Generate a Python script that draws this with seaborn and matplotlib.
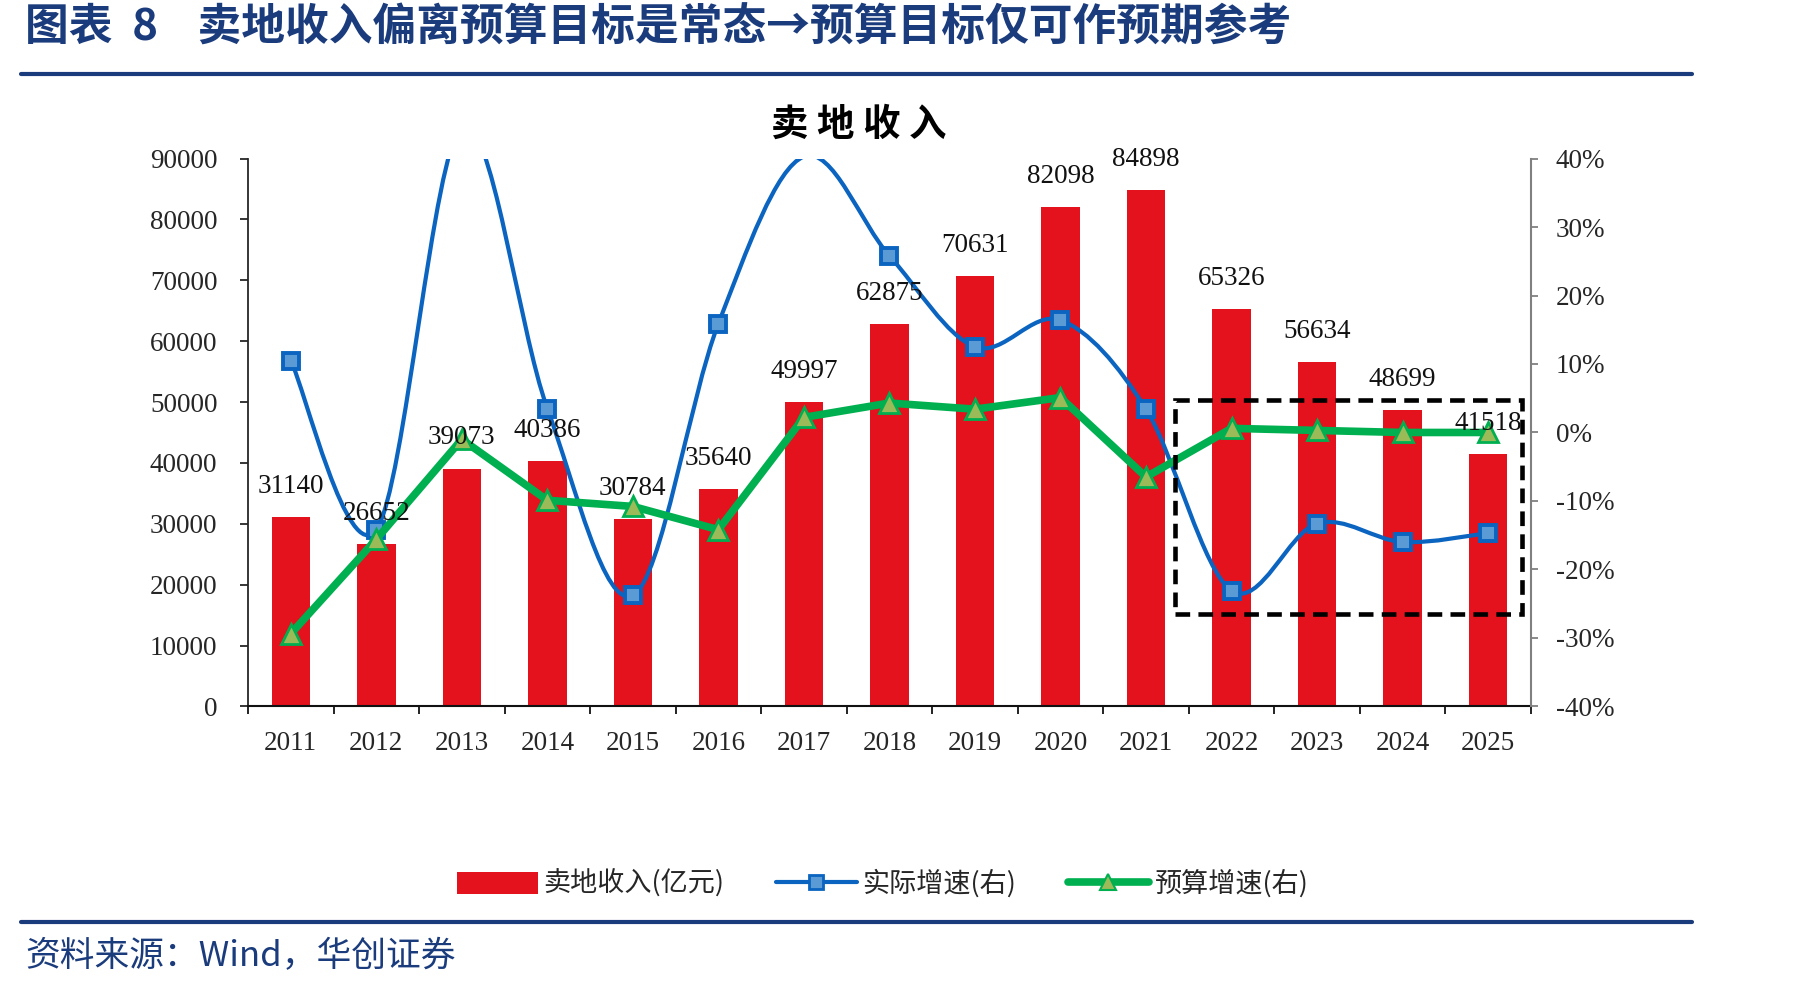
import numpy as np
import matplotlib
matplotlib.use("Agg")
import matplotlib.pyplot as plt
import seaborn as sns
from matplotlib.path import Path
from matplotlib.patches import PathPatch, Rectangle, Patch
from matplotlib.lines import Line2D
from matplotlib.ticker import FuncFormatter

# ---------------- data ----------------
years = ["2011", "2012", "2013", "2014", "2015", "2016", "2017", "2018",
         "2019", "2020", "2021", "2022", "2023", "2024", "2025"]
land_income = [31140, 26652, 39073, 40386, 30784, 35640, 49997, 62875,
               70631, 82098, 84898, 65326, 56634, 48699, 41518]
actual_growth = [10.5, -14.2, 44.6, 3.5, -23.8, 15.9, 40.3, 25.8,
                 12.5, 16.4, 3.4, -23.1, -13.3, -16.0, -14.7]
budget_growth = [-29.4, -15.6, -1.0, -9.9, -10.8, -14.2, 2.2, 4.3,
                 3.4, 5.1, -6.5, 0.6, 0.3, 0.0, 0.0]
left_ticks = [0, 10000, 20000, 30000, 40000, 50000, 60000, 70000, 80000, 90000]
right_ticks = [-40, -30, -20, -10, 0, 10, 20, 30, 40]

title_text = "图表  8    卖地收入偏离预算目标是常态→预算目标仅可作预期参考"
chart_title = "卖 地 收 入"
source_text = "资料来源：Wind，华创证券"
legend_labels = ["卖地收入(亿元)", "实际增速(右)", "预算增速(右)"]

# ---------------- style ----------------
RED = "#E3121C"
BLUE = "#0A64C0"
BLUE_FACE = "#5B9BD5"
GREEN = "#00B050"
GREEN_FACE = "#9BBB59"
NAVY = "#1B3C7C"
CJK = ["Noto Sans CJK SC", "DejaVu Sans"]
SERIF = ["Liberation Serif", "DejaVu Serif"]

sns.set_style("white")
plt.rcParams["font.family"] = SERIF
plt.rcParams["axes.unicode_minus"] = False

fig = plt.figure(figsize=(18.01, 9.91), dpi=100)
ax = fig.add_axes([0.1377, 0.2872, 0.7123, 0.5528])

x = np.arange(len(years))
sns.barplot(x=years, y=land_income, color=RED, saturation=1, width=0.45,
            linewidth=0, ax=ax, zorder=2)
ax.set_xlim(-0.5, len(years) - 0.5)
ax.set_ylim(0, 90000)
ax.set_yticks(left_ticks)
ax.set_xlabel("")
ax.set_ylabel("")

ax2 = ax.twinx()
ax2.set_ylim(-40, 40)
ax2.set_yticks(right_ticks)
ax2.yaxis.set_major_formatter(FuncFormatter(lambda v, p: f"{int(round(v))}%"))

# smoothed actual growth line (Excel-style bezier through points)
pts = np.column_stack([x, actual_growth]).astype(float)
verts = [tuple(pts[0])]
codes = [Path.MOVETO]
n = len(pts)
for i in range(n - 1):
    p0 = pts[i - 1] if i > 0 else pts[i]
    p1 = pts[i]
    p2 = pts[i + 1]
    p3 = pts[i + 2] if i + 2 < n else pts[i + 1]
    c1 = p1 + (p2 - p0) / 6.0
    c2 = p2 - (p3 - p1) / 6.0
    verts += [tuple(c1), tuple(c2), tuple(p2)]
    codes += [Path.CURVE4] * 3
ax2.add_patch(PathPatch(Path(verts, codes), facecolor="none", edgecolor=BLUE,
                        lw=3, zorder=3, capstyle="round", joinstyle="round"))
# markers outside the axis range are not drawn (as in the source chart)
visible = [i for i, v in enumerate(actual_growth) if -40 <= v <= 40]
ax2.plot(x, actual_growth, linestyle="none", marker="s", markersize=12,
         markerfacecolor=BLUE_FACE, markeredgecolor=BLUE, markeredgewidth=2.8,
         markevery=visible, zorder=4)

sns.lineplot(x=x, y=budget_growth, ax=ax2, color=GREEN, lw=5.5, marker="^",
             markersize=15, markerfacecolor=GREEN_FACE, markeredgecolor=GREEN,
             markeredgewidth=2, zorder=5, legend=False)

# dashed highlight box
ax2.add_patch(Rectangle((10.34, -26.5), 4.06, 31.2, fill=False, edgecolor="black",
                        lw=3.3, linestyle=(0, (3.2, 1.8)), zorder=7))

# value labels
for i, v in enumerate(land_income):
    ax2.annotate(str(v), xy=(i, v), xycoords=ax.transData, xytext=(0, 22),
                 textcoords="offset points", ha="center", va="center",
                 fontsize=19.5, family=SERIF, color="#111111", zorder=9)

# spines & ticks
for s in ["top", "right"]:
    ax.spines[s].set_visible(False)
for s in ["top", "left", "bottom"]:
    ax2.spines[s].set_visible(False)
ax.spines["left"].set_color("#262626")
ax.spines["left"].set_linewidth(1.3)
ax.spines["bottom"].set_color("#111111")
ax.spines["bottom"].set_linewidth(1.5)
ax2.spines["right"].set_color("#808080")
ax2.spines["right"].set_linewidth(1.5)

ax.set_xticks(x)
ax.set_xticklabels(years)
ax.set_xticks(np.arange(-0.5, len(years), 1), minor=True)
ax.tick_params(axis="x", which="major", length=0, pad=18, labelsize=19.5,
               bottom=True)
ax.tick_params(axis="x", which="minor", length=6, width=1.3, color="#111111",
               direction="out", bottom=True)
ax.tick_params(axis="y", which="major", length=6, width=1.3, color="#262626",
               direction="out", left=True, pad=16, labelsize=19.5)
ax2.tick_params(axis="y", which="major", length=5, width=1.3, color="#808080",
                direction="out", right=True, pad=13, labelsize=19.5)
for lab in ax.get_xticklabels() + ax.get_yticklabels() + ax2.get_yticklabels():
    lab.set_family(SERIF)

# titles & decorations
fig.text(0.0139, 0.972, title_text, family=CJK, fontsize=31.5, fontweight="bold",
         color=NAVY, ha="left", va="center")
fig.add_artist(Line2D([0.0117, 0.9395], [0.9258, 0.9258], transform=fig.transFigure,
                      color=NAVY, lw=3))
fig.text(0.477, 0.875, chart_title, family=CJK, fontsize=27, fontweight="bold",
         color="black", ha="center", va="center")
fig.add_artist(Line2D([0.0117, 0.9395], [0.0696, 0.0696], transform=fig.transFigure,
                      color=NAVY, lw=3))
fig.text(0.0139, 0.0343, source_text, family=CJK, fontsize=25, color=NAVY,
         ha="left", va="center")

handles = [
    Patch(facecolor=RED, edgecolor="none"),
    Line2D([0], [0], color=BLUE, lw=3, marker="s", markersize=10,
           markerfacecolor=BLUE_FACE, markeredgecolor=BLUE, markeredgewidth=2),
    Line2D([0], [0], color=GREEN, lw=5.5, marker="^", markersize=11,
           markerfacecolor=GREEN_FACE, markeredgecolor=GREEN, markeredgewidth=1.5),
]
fig.legend(handles, legend_labels, loc="center", bbox_to_anchor=(0.490, 0.108),
           ncol=3, frameon=False, prop={"family": CJK, "size": 19.5},
           handlelength=3.0, handleheight=0.85, handletextpad=0.2,
           columnspacing=1.9, numpoints=1)

fig.savefig("out.png", dpi=100)
